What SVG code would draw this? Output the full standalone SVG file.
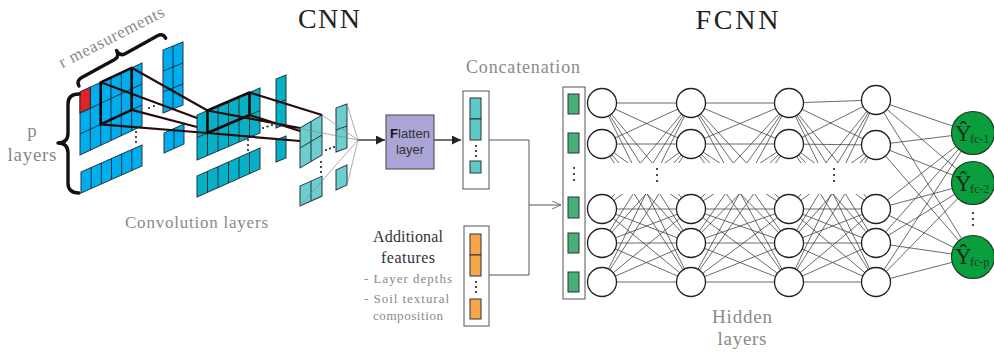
<svg xmlns="http://www.w3.org/2000/svg" width="994" height="358" viewBox="0 0 994 358">
  <defs>
    <style>
      .gA rect{fill:#00adee;stroke:#22343c;stroke-width:1}
      .gB rect{fill:#06b1c7;stroke:#22343c;stroke-width:1}
      .gC rect{fill:#6dcece;stroke:#22343c;stroke-width:1}
      .gl{fill:none;stroke:#22343c;stroke-width:1}
      .kern{fill:none;stroke:#120606;stroke-width:2.6;stroke-linejoin:round}
      .klink{fill:none;stroke:#2a0c0c;stroke-width:2.2}
      .thin{fill:none;stroke:#8a8a8a;stroke-width:0.7}
      .dot{fill:#222}
      .brace{fill:none;stroke:#111;stroke-width:3.4;stroke-linecap:round;stroke-linejoin:round}
      .serif{font-family:"Liberation Serif","DejaVu Serif",serif}
      .gray{fill:#8a8a8a}
      .title{font-family:"Liberation Serif","DejaVu Serif",serif;font-size:28px;fill:#222}
      .conn{fill:none;stroke:#555;stroke-width:1}
      .arrow{fill:none;stroke:#222;stroke-width:1.3}
      .vec{fill:#fff;stroke:#555;stroke-width:1}
      .cell{stroke:#333;stroke-width:1}
      .net{fill:none;stroke:#3a3a3a;stroke-width:0.75}
      .neuron{fill:#fff;stroke:#222;stroke-width:1.3}
      .outn{fill:#0a9e3c;stroke:#1d3a24;stroke-width:1.2}
      .yh{font-family:"Liberation Serif","DejaVu Serif",serif;font-size:23px;fill:#1a2a1e}
      .sub{font-family:"Liberation Serif","DejaVu Serif",serif;font-size:12px;fill:#1f3a26}
    </style>
    <marker id="ah" viewBox="0 0 10 10" refX="10" refY="5" markerWidth="9" markerHeight="9" orient="auto" markerUnits="userSpaceOnUse">
      <path d="M0 0L10 5L0 10z" fill="#222"/>
    </marker>
    <marker id="oh" viewBox="0 0 10 10" refX="10" refY="5" markerWidth="9" markerHeight="9" orient="auto" markerUnits="userSpaceOnUse">
      <path d="M0 0.5L10 5L0 9.5" fill="none" stroke="#666" stroke-width="1"/>
    </marker>
    <clipPath id="gap">
      <rect x="0" y="0" width="994" height="163"/>
      <rect x="0" y="194" width="994" height="164"/>
    </clipPath>
  </defs>

  <rect width="994" height="358" fill="#fff"/>

  <!-- titles -->
  <text class="title" x="329" y="28" text-anchor="middle" textLength="62">CNN</text>
  <text class="title" x="737" y="29" text-anchor="middle" textLength="83">FCNN</text>

  <!-- input tensor (first layer) -->
  <g id="input-layer">
    <g class="gA" transform="matrix(1 -0.468 0 1 80 92)">
      <rect width="62" height="63"/>
      <rect width="10.33" height="21" style="fill:#e52128"/>
      <path class="gl" d="M10.33 0V63M20.67 0V63M31 0V63M41.33 0V63M51.67 0V63M0 21H62M0 42H62"/>
    </g>
    <g class="gA" transform="matrix(1 -0.443 0 1 81 172)">
      <rect width="61" height="21"/>
      <path class="gl" d="M10.17 0V21M20.33 0V21M30.5 0V21M40.67 0V21M50.83 0V21"/>
    </g>
    <g class="gA" transform="matrix(1 -0.4 0 1 163 50)">
      <rect width="20" height="63"/>
      <path class="gl" d="M10 0V63M0 21H20M0 42H20"/>
    </g>
    <g class="gA" transform="matrix(1 -0.45 0 1 164 133)">
      <rect width="20" height="20"/>
      <path class="gl" d="M10 0V20"/>
    </g>
    <circle class="dot" cx="136" cy="132" r="1.1"/>
    <circle class="dot" cx="136" cy="137" r="1.1"/>
    <circle class="dot" cx="136" cy="142" r="1.1"/>
    <circle class="dot" cx="149" cy="108" r="1.1"/>
    <circle class="dot" cx="154" cy="106" r="1.1"/>
    <circle class="dot" cx="159" cy="104" r="1.1"/>
  </g>

  <!-- second convolution layer -->
  <g id="conv-layer-1">
    <g class="gB" transform="matrix(1 -0.4286 0 1 197 115)">
      <rect width="63" height="45"/>
      <path class="gl" d="M10.5 0V45M21 0V45M31.5 0V45M42 0V45M52.5 0V45M0 22.5H63"/>
    </g>
    <g class="gB" transform="matrix(1 -0.444 0 1 197 176)">
      <rect width="63" height="21"/>
      <path class="gl" d="M10.5 0V21M21 0V21M31.5 0V21M42 0V21M52.5 0V21"/>
    </g>
    <g class="gB" transform="matrix(1 -0.4 0 1 276 79)">
      <rect width="10" height="49"/>
      <path class="gl" d="M0 24.5H10"/>
    </g>
    <g class="gB" transform="matrix(1 -0.4 0 1 276 140)">
      <rect width="10" height="22"/>
    </g>
    <circle class="dot" cx="248" cy="140" r="1.1"/>
    <circle class="dot" cx="248" cy="145" r="1.1"/>
    <circle class="dot" cx="248" cy="150" r="1.1"/>
    <circle class="dot" cx="263" cy="128" r="1.1"/>
    <circle class="dot" cx="267.5" cy="126.5" r="1.1"/>
    <circle class="dot" cx="272" cy="125" r="1.1"/>
  </g>

  <!-- third convolution layer -->
  <g id="conv-layer-2">
    <g class="gC" transform="matrix(1 -0.59 0 1 300 128)">
      <rect width="22" height="40"/>
      <path class="gl" d="M11 0V40M0 20H22"/>
    </g>
    <g class="gC" transform="matrix(1 -0.45 0 1 300 186)">
      <rect width="22" height="20"/>
      <path class="gl" d="M11 0V20"/>
    </g>
    <g class="gC" transform="matrix(1 -0.36 0 1 336 108)">
      <rect width="11" height="44"/>
      <path class="gl" d="M0 22H11"/>
    </g>
    <g class="gC" transform="matrix(1 -0.45 0 1 336 170)">
      <rect width="11" height="20"/>
    </g>
    <circle class="dot" cx="321" cy="162" r="1.1"/>
    <circle class="dot" cx="321" cy="167" r="1.1"/>
    <circle class="dot" cx="321" cy="172" r="1.1"/>
    <circle class="dot" cx="326" cy="150" r="1.1"/>
    <circle class="dot" cx="330" cy="148.5" r="1.1"/>
    <circle class="dot" cx="334" cy="147" r="1.1"/>
  </g>

  <!-- receptive-field projections -->
  <g id="cnn-connectors">
    <path class="kern" d="M100.67 82.33L131.67 67.82L131.67 109.82L100.67 124.33Z"/>
    <path class="klink" d="M131.67 67.82L207.5 110.5M100.67 82.33L197 118M131.67 109.82L197 127M100.67 124.33L207.5 133"/>
    <path class="kern" d="M207.5 110.5L249.5 92.5L249.5 115L207.5 133Z"/>
    <path class="klink" d="M207.5 110.5L300 128M249.5 92.5L322 115M249.5 115L300 131M207.5 133L300 141"/>
    <path class="thin" d="M302 129L358 140M347 104L358 140M300 206L358 140M347 185L358 140M322 115L358 140"/>
    <path class="arrow" d="M358 140H385" marker-end="url(#ah)"/>
    <path class="arrow" d="M434 140H461" marker-end="url(#ah)"/>
    <path class="conn" d="M489 140H529V275H489"/>
    <path class="conn" d="M529 205H561" marker-end="url(#oh)"/>
  </g>

  <!-- braces and CNN labels -->
  <path class="brace" transform="translate(79 86) rotate(-28.9)" d="M0 0Q0 -6 6 -6L44 -6Q50 -6 50 -13Q50 -6 56 -6L93 -6Q99 -6 99 0"/>
  <path class="brace" d="M79 94Q68 94 68 104L68 133Q68 143 58 143Q68 143 68 153L68 183Q68 193 79 193"/>
  <text class="serif gray" font-size="17" transform="translate(114 42) rotate(-27)" text-anchor="middle" textLength="116">r measurements</text>
  <text class="serif gray" font-size="19" x="32" y="137" text-anchor="middle">p</text>
  <text class="serif gray" font-size="19" x="32" y="161" text-anchor="middle" textLength="49">layers</text>
  <text class="serif gray" font-size="17" x="125" y="228" textLength="143">Convolution layers</text>

  <!-- flatten layer -->
  <g id="flatten">
    <rect x="386" y="115" width="48" height="54" fill="#aaa5d6" stroke="#444" stroke-width="1"/>
    <text x="410" y="138" text-anchor="middle" font-family="Liberation Sans, Arial, sans-serif" font-size="13" fill="#333"><tspan font-weight="bold" fill="#111">F</tspan>latten</text>
    <text x="410" y="154" text-anchor="middle" font-family="Liberation Sans, Arial, sans-serif" font-size="13" fill="#333">layer</text>
  </g>

  <!-- flattened vector -->
  <g id="cnn-vector">
    <rect class="vec" x="463" y="91" width="26" height="98"/>
    <rect class="cell" x="470" y="98" width="11" height="21" fill="#5fc8c8"/>
    <rect class="cell" x="470" y="119" width="11" height="21" fill="#5fc8c8"/>
    <circle class="dot" cx="476" cy="146" r="1.1"/>
    <circle class="dot" cx="476" cy="151" r="1.1"/>
    <circle class="dot" cx="476" cy="156" r="1.1"/>
    <rect class="cell" x="470" y="161" width="11" height="12" fill="#5fc8c8"/>
  </g>
  <text class="serif gray" font-size="18" x="466" y="73" textLength="114">Concatenation</text>

  <!-- additional features -->
  <g id="extra-features">
    <rect class="vec" x="464" y="226" width="25" height="100"/>
    <rect class="cell" x="470" y="234" width="11" height="21" fill="#f6a64a"/>
    <rect class="cell" x="470" y="255" width="11" height="21" fill="#f6a64a"/>
    <circle class="dot" cx="476" cy="282" r="1.1"/>
    <circle class="dot" cx="476" cy="287" r="1.1"/>
    <circle class="dot" cx="476" cy="292" r="1.1"/>
    <rect class="cell" x="470" y="299" width="11" height="20" fill="#f6a64a"/>
    <text class="serif" font-size="16" fill="#333" x="408" y="242" text-anchor="middle" textLength="70">Additional</text>
    <text class="serif" font-size="16" fill="#333" x="408" y="263" text-anchor="middle" textLength="54">features</text>
    <text class="serif gray" font-size="13" x="364" y="283" textLength="88">- Layer depths</text>
    <text class="serif gray" font-size="13" x="364" y="303" textLength="85">- Soil textural</text>
    <text class="serif gray" font-size="13" x="408" y="320" text-anchor="middle" textLength="70">composition</text>
  </g>

  <!-- concatenated input vector -->
  <g id="concat-vector">
    <rect class="vec" x="563" y="87" width="22" height="212"/>
    <rect class="cell" x="568" y="94" width="11" height="20" fill="#47af78"/>
    <rect class="cell" x="568" y="133" width="11" height="20" fill="#47af78"/>
    <circle class="dot" cx="574" cy="168" r="1.1"/>
    <circle class="dot" cx="574" cy="174" r="1.1"/>
    <circle class="dot" cx="574" cy="180" r="1.1"/>
    <rect class="cell" x="568" y="197" width="11" height="21" fill="#47af78"/>
    <rect class="cell" x="568" y="233" width="11" height="20" fill="#47af78"/>
    <rect class="cell" x="568" y="272" width="11" height="20" fill="#47af78"/>
  </g>

  <!-- dense connections -->
  <g id="fcnn-connectors">
    <g clip-path="url(#gap)">
      <path class="net" d="M602 103L691 103M602 103L691 144M602 103L691 209M602 103L691 243M602 103L691 282
        M602 144L691 103M602 144L691 144M602 144L691 209M602 144L691 243M602 144L691 282
        M602 209L691 103M602 209L691 144M602 209L691 209M602 209L691 243M602 209L691 282
        M602 243L691 103M602 243L691 144M602 243L691 209M602 243L691 243M602 243L691 282
        M602 282L691 103M602 282L691 144M602 282L691 209M602 282L691 243M602 282L691 282"/>
      <path class="net" d="M691 103L789 103M691 103L789 144M691 103L789 209M691 103L789 243M691 103L789 282
        M691 144L789 103M691 144L789 144M691 144L789 209M691 144L789 243M691 144L789 282
        M691 209L789 103M691 209L789 144M691 209L789 209M691 209L789 243M691 209L789 282
        M691 243L789 103M691 243L789 144M691 243L789 209M691 243L789 243M691 243L789 282
        M691 282L789 103M691 282L789 144M691 282L789 209M691 282L789 243M691 282L789 282"/>
      <path class="net" d="M789 103L876 100M789 103L876 145M789 103L876 209M789 103L876 243M789 103L876 282
        M789 144L876 100M789 144L876 145M789 144L876 209M789 144L876 243M789 144L876 282
        M789 209L876 100M789 209L876 145M789 209L876 209M789 209L876 243M789 209L876 282
        M789 243L876 100M789 243L876 145M789 243L876 209M789 243L876 243M789 243L876 282
        M789 282L876 100M789 282L876 145M789 282L876 209M789 282L876 243M789 282L876 282"/>
    </g>
    <path class="net" d="M876 100L973 133M876 100L973 183M876 100L973 257
      M876 145L973 133M876 145L973 183M876 145L973 257
      M876 209L973 133M876 209L973 183M876 209L973 257
      M876 243L973 133M876 243L973 183M876 243L973 257
      M876 282L973 133M876 282L973 183M876 282L973 257"/>
  </g>

  <!-- hidden layer 1 -->
  <g id="hidden-1">
    <circle class="neuron" cx="602" cy="103" r="14.5"/>
    <circle class="neuron" cx="602" cy="144" r="14.5"/>
    <circle class="neuron" cx="602" cy="209" r="14.5"/>
    <circle class="neuron" cx="602" cy="243" r="14.5"/>
    <circle class="neuron" cx="602" cy="282" r="14.5"/>
  </g>
  <!-- hidden layer 2 -->
  <g id="hidden-2">
    <circle class="neuron" cx="691" cy="103" r="14.5"/>
    <circle class="neuron" cx="691" cy="144" r="14.5"/>
    <circle class="neuron" cx="691" cy="209" r="14.5"/>
    <circle class="neuron" cx="691" cy="243" r="14.5"/>
    <circle class="neuron" cx="691" cy="282" r="14.5"/>
  </g>
  <!-- hidden layer 3 -->
  <g id="hidden-3">
    <circle class="neuron" cx="789" cy="103" r="14.5"/>
    <circle class="neuron" cx="789" cy="144" r="14.5"/>
    <circle class="neuron" cx="789" cy="209" r="14.5"/>
    <circle class="neuron" cx="789" cy="243" r="14.5"/>
    <circle class="neuron" cx="789" cy="282" r="14.5"/>
  </g>
  <!-- hidden layer 4 -->
  <g id="hidden-4">
    <circle class="neuron" cx="876" cy="100" r="14.5"/>
    <circle class="neuron" cx="876" cy="145" r="14.5"/>
    <circle class="neuron" cx="876" cy="209" r="14.5"/>
    <circle class="neuron" cx="876" cy="243" r="14.5"/>
    <circle class="neuron" cx="876" cy="282" r="14.5"/>
  </g>
  <circle class="dot" cx="657" cy="169" r="1.1"/>
  <circle class="dot" cx="657" cy="175" r="1.1"/>
  <circle class="dot" cx="657" cy="181" r="1.1"/>
  <circle class="dot" cx="834" cy="169" r="1.1"/>
  <circle class="dot" cx="834" cy="175" r="1.1"/>
  <circle class="dot" cx="834" cy="181" r="1.1"/>

  <!-- outputs -->
  <g id="out-1">
    <circle class="outn" cx="973" cy="133" r="21.5"/>
    <text class="yh" x="955" y="141">Ŷ</text>
    <text class="sub" x="970" y="143">fc-1</text>
  </g>
  <g id="out-2">
    <circle class="outn" cx="973" cy="183" r="21.5"/>
    <text class="yh" x="955" y="191">Ŷ</text>
    <text class="sub" x="970" y="193">fc-2</text>
  </g>
  <g id="out-p">
    <circle class="outn" cx="973" cy="257" r="21.5"/>
    <text class="yh" x="955" y="264">Ŷ</text>
    <text class="sub" x="970" y="266">fc-p</text>
  </g>
  <circle class="dot" cx="973" cy="213" r="1.1"/>
  <circle class="dot" cx="973" cy="219" r="1.1"/>
  <circle class="dot" cx="973" cy="225" r="1.1"/>

  <text class="serif gray" font-size="19" x="742" y="323" text-anchor="middle" textLength="60">Hidden</text>
  <text class="serif gray" font-size="19" x="742" y="345" text-anchor="middle" textLength="49">layers</text>
</svg>
